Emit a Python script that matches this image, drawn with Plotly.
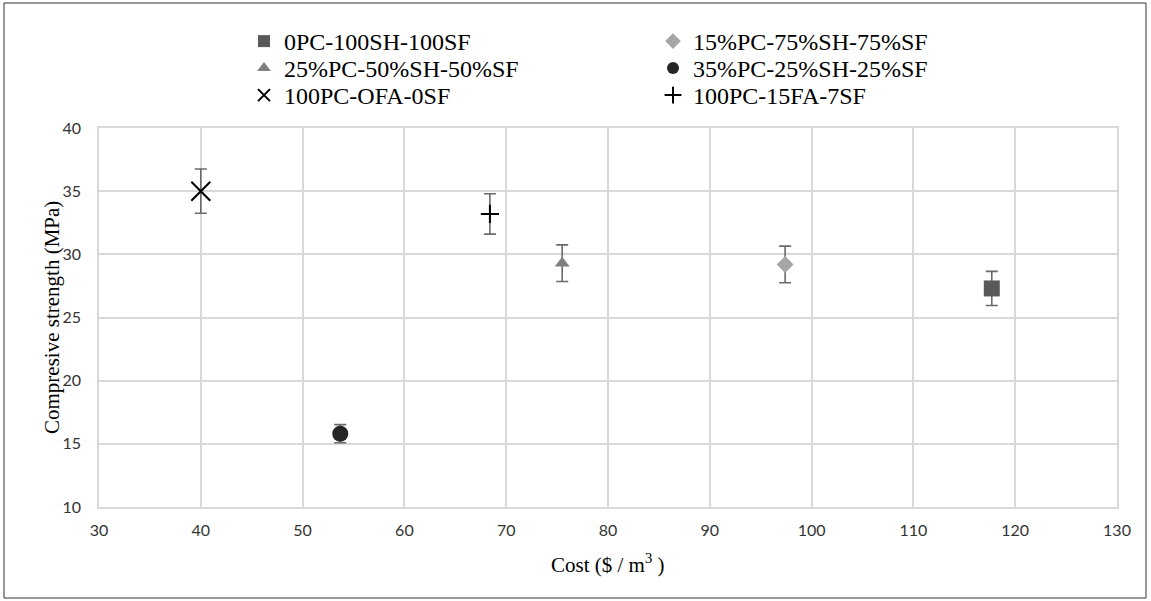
import plotly.graph_objects as go

# Data
names = ["0PC-100SH-100SF", "15%PC-75%SH-75%SF", "25%PC-50%SH-50%SF",
         "35%PC-25%SH-25%SF", "100PC-OFA-0SF", "100PC-15FA-7SF"]
cost = [117.7, 97.4, 75.5, 53.7, 40.0, 68.4]
strength = [27.3, 29.2, 29.3, 15.8, 35.0, 33.2]
err = [1.35, 1.45, 1.45, 0.72, 1.75, 1.6]

symbols = ["square", "diamond", "triangle-up", "circle", "x-thin-open", "cross-thin-open"]
colors = ["#595959", "#a6a6a6", "#808080", "#262626", "#000000", "#000000"]
sizes = [16, 13, 13, 16, 19, 13]

x_ticks = list(range(30, 131, 10))
y_ticks = list(range(10, 41, 5))

W, H = 1151, 601
L, R, T, B = 99, 34, 128, 94
pw, ph = W - L - R, H - T - B

def px(x):
    return (x - L) / pw

def py(y):
    return (H - B - y) / ph

legend_ids = ["legend", "legend", "legend2", "legend2", "legend3", "legend3"]
row_y = [41.5, 68.5, 95.5]

fig = go.Figure()
for i in range(len(names)):
    thin = symbols[i].endswith("thin-open")
    fig.add_trace(go.Scatter(
        x=[cost[i]], y=[strength[i]], mode="markers", name=names[i],
        legend=legend_ids[i],
        marker=dict(symbol=symbols[i], color=colors[i], size=sizes[i],
                    line=dict(width=2 if thin else 0, color=colors[i])),
        error_y=dict(type="data", array=[err[i]], visible=True,
                     color="#6a6a6a", thickness=1.6, width=6),
    ))

legend_style = dict(orientation="h", x=px(244), xanchor="left", yanchor="middle",
                    entrywidth=364, itemsizing="constant",
                    font=dict(family="Liberation Serif", size=24, color="#000"),
                    bgcolor="rgba(0,0,0,0)", itemclick=False)

fig.update_layout(
    width=W, height=H,
    margin=dict(l=L, r=R, t=T, b=B),
    paper_bgcolor="white", plot_bgcolor="white",
    showlegend=True,
    legend=dict(y=py(row_y[0]), **legend_style),
    legend2=dict(y=py(row_y[1]), **legend_style),
    legend3=dict(y=py(row_y[2]), **legend_style),
    xaxis=dict(range=[30, 130], tickvals=x_ticks, showgrid=True, gridcolor="#d9d9d9",
               gridwidth=1.5, zeroline=False, showline=True, linecolor="#d9d9d9",
               linewidth=1.5, mirror=True, ticks="",
               tickfont=dict(family="Lato", size=16, color="#333"), ticklabelstandoff=8),
    yaxis=dict(range=[10, 40], tickvals=y_ticks, showgrid=True, gridcolor="#d9d9d9",
               gridwidth=1.5, zeroline=False, showline=True, linecolor="#d9d9d9",
               linewidth=1.5, mirror=True, ticks="",
               tickfont=dict(family="Lato", size=16, color="#333"), ticklabelstandoff=13),
    annotations=[
        dict(text="Cost ($ / m<sup>3</sup> )", xref="paper", yref="paper",
             x=0.5, y=py(563), xanchor="center", yanchor="middle", showarrow=False,
             font=dict(family="Liberation Serif", size=21, color="#000")),
        dict(text="Compresive strength (MPa)", xref="paper", yref="paper",
             x=px(52), y=py(318), xanchor="center", yanchor="middle", showarrow=False,
             textangle=-90, font=dict(family="Liberation Serif", size=21, color="#000")),
    ],
    shapes=[dict(type="rect", xref="paper", yref="paper",
                 x0=px(4), x1=px(1146), y0=py(598), y1=py(3),
                 line=dict(color="#333333", width=1), fillcolor="rgba(0,0,0,0)")],
)

fig.write_html("out.html")
